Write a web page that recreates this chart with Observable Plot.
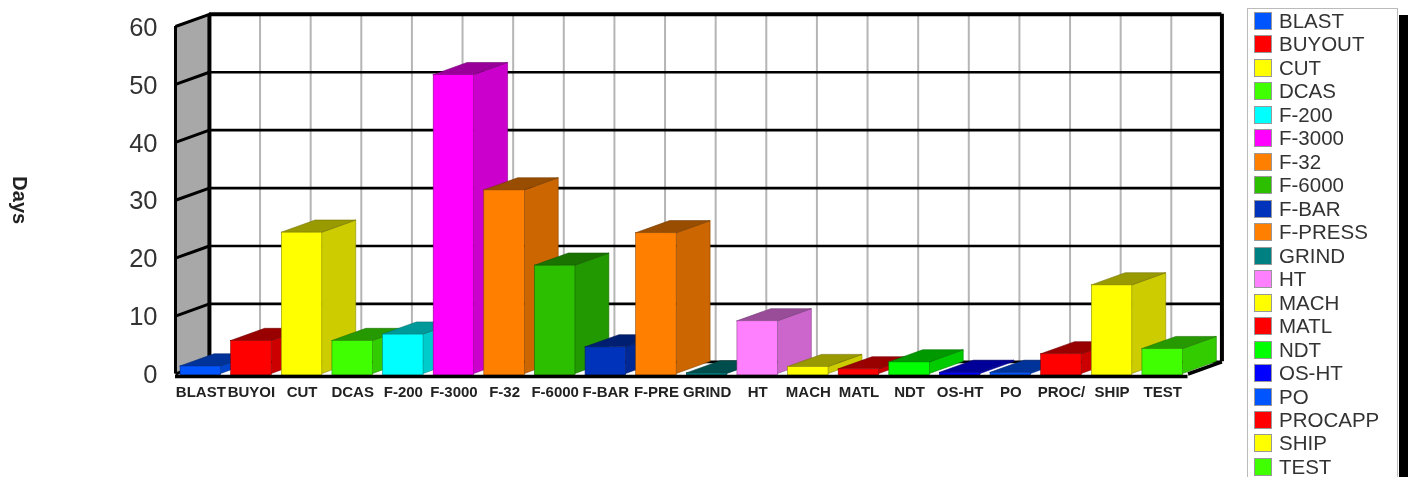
<!DOCTYPE html>
<html>
<head>
<meta charset="utf-8">
<script src="https://cdn.jsdelivr.net/npm/d3@7"></script>
<script src="https://cdn.jsdelivr.net/npm/@observablehq/plot@0.6"></script>
<style>
  html, body { margin: 0; padding: 0; background: #fff; overflow: hidden; }
  #stage { position: relative; width: 1408px; height: 477px; overflow: hidden; filter: blur(0.7px); }
  #stage svg { display: block; overflow: visible; }
  #shadow { position: absolute; left: 1399px; top: 15px; width: 9px; height: 470px; background: #000; }
  #legend { position: absolute; left: 1247px; top: 8px; width: 149px; height: 480px; background: #fff;
            border: 1.5px solid #bbb; font: 20.5px "Liberation Sans", Arial, sans-serif; color: #333; }
  .row { position: absolute; left: 6px; height: 18px; line-height: 18px; white-space: nowrap; }
  .sw { display: inline-block; width: 18px; height: 18px; margin-right: 7px; vertical-align: top; border: 0.5px solid #999; box-sizing: border-box; }
</style>
</head>
<body>
<div id="stage"></div>
<script>
const categories = ["BLAST","BUYOUT","CUT","DCAS","F-200","F-3000","F-32","F-6000","F-BAR","F-PRESS","GRIND","HT","MACH","MATL","NDT","OS-HT","PO","PROCAPP","SHIP","TEST"];
const tickLabels = ["BLAST","BUYOI","CUT","DCAS","F-200","F-3000","F-32","F-6000","F-BAR","F-PRE","GRIND","HT","MACH","MATL","NDT","OS-HT","PO","PROC/","SHIP","TEST"];
const days = [1.3,5.7,24.4,5.7,6.8,51.6,31.7,18.7,4.6,24.3,0.1,9.1,1.2,0.8,2.0,0.2,0.2,3.4,15.3,4.3];
const palette = ["#0055ff","#ff0000","#ffff00","#40ff00","#00ffff","#ff00ff","#ff8000","#2bbf00","#0033bb","#ff8000","#008080","#ff80ff","#ffff00","#ff0000","#00ff00","#0000ff","#0055ff","#ff0000","#ffff00","#40ff00"];
const yTicks = [0,10,20,30,40,50,60];

// depth of the 3-D box, in scale units
const depthX = 0.67, depthY = 2.1, pad = 0.1;
const n = categories.length;
const shade = (c, k) => { const r = d3.rgb(c); return d3.rgb(r.r*k, r.g*k, r.b*k).formatHex(); };

const marks = [];
// left wall
marks.push(Plot.areaY([{x:0,y1:0,y2:60},{x:depthX,y1:depthY,y2:60+depthY}],
  {x:"x",y1:"y1",y2:"y2",fill:"#a8a8a8"}));
// back wall: vertical grid
marks.push(Plot.ruleX(d3.range(1,n),{x:d=>d+depthX,y1:depthY,y2:60+depthY,stroke:"#b5b5b5",strokeWidth:2}));
// back wall: horizontal grid, slanted wall ticks
marks.push(Plot.ruleY(yTicks,{y:d=>d+depthY,x1:depthX,x2:n+depthX,stroke:"#000",strokeWidth:d=>d===60?4:2.6}));
marks.push(Plot.link(yTicks,{x1:0,y1:d=>d,x2:depthX,y2:d=>d+depthY,stroke:"#000",strokeWidth:3}));
// box edges
marks.push(Plot.ruleX([0],{y1:0,y2:60,stroke:"#000",strokeWidth:3}));
marks.push(Plot.ruleX([depthX,n+depthX],{y1:depthY,y2:60+depthY,stroke:"#000",strokeWidth:4}));
marks.push(Plot.link([n],{x1:d=>d,y1:0,x2:d=>d+depthX,y2:depthY,stroke:"#000",strokeWidth:3.5}));

// bars, left to right so each one covers its neighbour's side
categories.forEach((c,i) => {
  const v = days[i], col = palette[i], x0 = i+pad, x1 = i+1-pad;
  marks.push(Plot.areaY([{x:x1,y1:0,y2:v},{x:x1+depthX,y1:depthY,y2:v+depthY}],
    {x:"x",y1:"y1",y2:"y2",fill:shade(col,0.8),stroke:shade(col,0.55),strokeWidth:0.6}));
  marks.push(Plot.areaX([{y:v,x1:x0,x2:x1},{y:v+depthY,x1:x0+depthX,x2:x1+depthX}],
    {y:"y",x1:"x1",x2:"x2",fill:shade(col,0.6),stroke:shade(col,0.45),strokeWidth:0.6}));
  marks.push(Plot.rect([{c,x1:x0,x2:x1,v}],
    {x1:"x1",x2:"x2",y1:0,y2:"v",fill:"c",stroke:shade(col,0.55),strokeWidth:0.6,insetBottom:-1.5}));
});

// front baseline
marks.push(Plot.ruleY([0],{x1:0,x2:n,stroke:"#000",strokeWidth:3.5,dy:2.5}));

// axes
marks.push(Plot.axisY({ticks:yTicks,tickSize:0,tickPadding:18,label:null,fontSize:25.5,fill:"#333",anchor:"left",dy:1}));
marks.push(Plot.axisX({ticks:d3.range(n).map(i=>i+0.5),tickFormat:(d,i)=>tickLabels[i],tickSize:0,tickPadding:12.5,label:null,fontSize:15,fontWeight:"bold",fill:"#222",anchor:"bottom"}));
marks.push(Plot.text(["Days"],{frameAnchor:"left",dx:-156,rotate:90,textAnchor:"middle",fontSize:20,fontWeight:"bold",fill:"#222"}));

const chart = Plot.plot({
  width:1408, height:477,
  marginLeft:175, marginRight:220.5, marginTop:26, marginBottom:103.5,
  style:{fontFamily:'"Liberation Sans", Arial, sans-serif',background:"transparent"},
  x:{type:"linear",domain:[0,n],axis:null},
  y:{type:"linear",domain:[0,60],axis:null},
  color:{type:"ordinal",domain:categories,range:palette},
  marks
});

const stage = document.getElementById("stage");
stage.appendChild(chart);
const shadow = document.createElement("div"); shadow.id = "shadow"; stage.appendChild(shadow);
const legend = document.createElement("div"); legend.id = "legend"; stage.appendChild(legend);
categories.forEach((c,i) => {
  const row = document.createElement("div");
  row.className = "row";
  row.style.top = (3 + i*23.47) + "px";
  const sw = document.createElement("span");
  sw.className = "sw"; sw.style.background = palette[i];
  row.appendChild(sw);
  row.appendChild(document.createTextNode(c));
  legend.appendChild(row);
});
</script>
</body>
</html>
